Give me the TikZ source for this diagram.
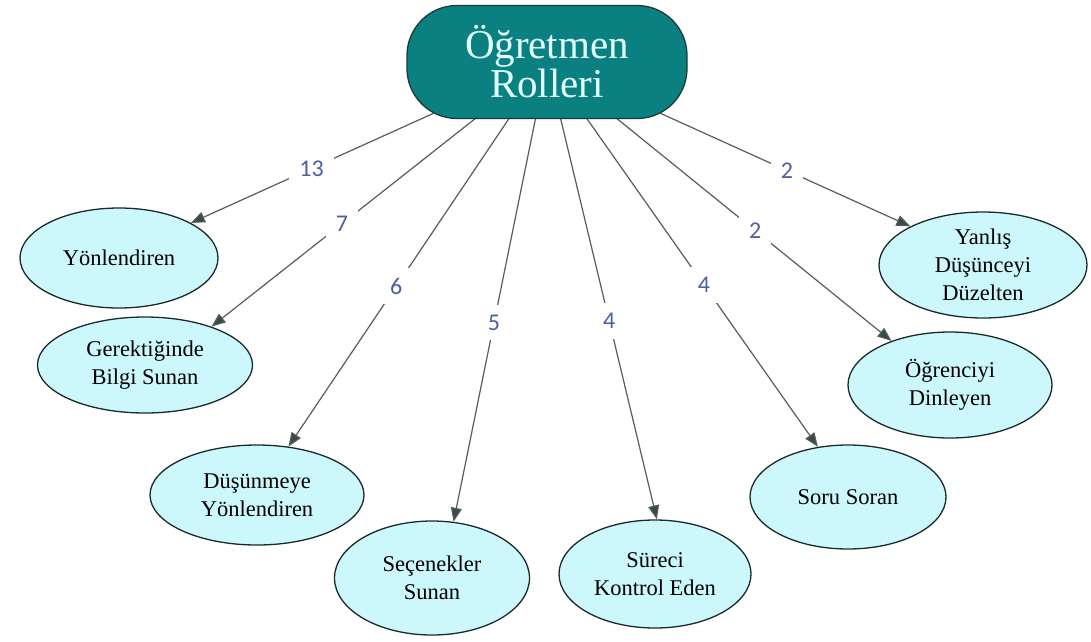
\documentclass[tikz,border=0pt]{standalone}
\usepackage{fontspec}
\setmainfont{Liberation Serif}
\newfontfamily\countfont{Carlito}
\usetikzlibrary{shapes.geometric,arrows.meta}
\pgfdeclarelayer{background}
\pgfsetlayers{background,main}
\definecolor{headfill}{HTML}{0B8080}
\definecolor{headline}{HTML}{1C3B3B}
\definecolor{headtext}{HTML}{E2FFFF}
\definecolor{rolefill}{HTML}{CCF8FC}
\definecolor{roleline}{HTML}{1A2A2A}
\definecolor{connline}{HTML}{555D5D}
\definecolor{tipcol}{HTML}{3A4A4A}
\definecolor{countblue}{HTML}{4D5EA6}
\begin{document}
\begin{tikzpicture}[x=1pt,y=-1pt,
  head/.style={rectangle,rounded corners=50pt,draw=headline,line width=1.3pt,
    fill=headfill,text=headtext,minimum width=280pt,minimum height=113pt,
    inner sep=0pt,align=center,font=\fontsize{41}{39}\selectfont},
  role/.style={ellipse,draw=roleline,line width=1.3pt,fill=rolefill,
    inner sep=0pt,align=center,text=black,font=\fontsize{22.5}{28}\selectfont},
  conn/.style={draw=connline,line width=1.2pt,
    -{Triangle[length=14pt,width=11pt,fill=tipcol]}},
  cnt/.style={fill=white,inner sep=10pt,text=countblue,
    font=\countfont\fontsize{24}{24}\selectfont}]
  \useasboundingbox (0,0) rectangle (1091,641);

  % central node
  \node[head] (top) at (547,62) {Öğretmen\\Rolleri};

  % role ellipses
  \node[role,minimum width=198pt,minimum height=100pt] (yon)     at (119,258) {Yönlendiren};
  \node[role,minimum width=215pt,minimum height=96pt]  (bilgi)   at (145,365) {Gerektiğinde\\Bilgi Sunan};
  \node[role,minimum width=214pt,minimum height=100pt] (dusun)   at (257,495) {Düşünmeye\\Yönlendiren};
  \node[role,minimum width=195pt,minimum height=114pt] (secenek) at (432,578) {Seçenekler\\Sunan};
  \node[role,minimum width=192pt,minimum height=108pt] (surec)   at (655,574) {Süreci\\Kontrol Eden};
  \node[role,minimum width=196pt,minimum height=104pt] (soru)    at (848,497) {Soru Soran};
  \node[role,minimum width=204pt,minimum height=106pt] (dinle)   at (950,385) {Öğrenciyi\\Dinleyen};
  \node[role,minimum width=208pt,minimum height=106pt] (duzelt)  at (983,265) {Yanlış\\Düşünceyi\\Düzelten};

  % white canvas and connectors with their counts, behind the nodes
  \begin{pgfonlayer}{background}
    \fill[white] (0,0) rectangle (1091,641);
    \draw[conn] (top.center) -- node[cnt,pos=0.661] (c1) {13} (yon.26);
    \draw[conn] (top.center) -- node[cnt,pos=0.611] (c2) {7}  (bilgi.30);
    \draw[conn] (top.center) -- node[cnt,pos=0.583] (c3) {6}  (dusun.57);
    \draw[conn] (top.center) -- node[cnt,pos=0.567] (c4) {5}  (secenek.69);
    \draw[conn] (top.center) -- node[cnt,pos=0.566] (c5) {4}  (surec.88);
    \draw[conn] (top.center) -- node[cnt,pos=0.579] (c6) {4}  (soru.121);
    \draw[conn] (top.center) -- node[cnt,pos=0.604] (c7) {2}  (dinle.143);
    \draw[conn] (top.center) -- node[cnt,pos=0.660] (c8) {2}  (duzelt.152);
  \end{pgfonlayer}
\end{tikzpicture}
\end{document}
